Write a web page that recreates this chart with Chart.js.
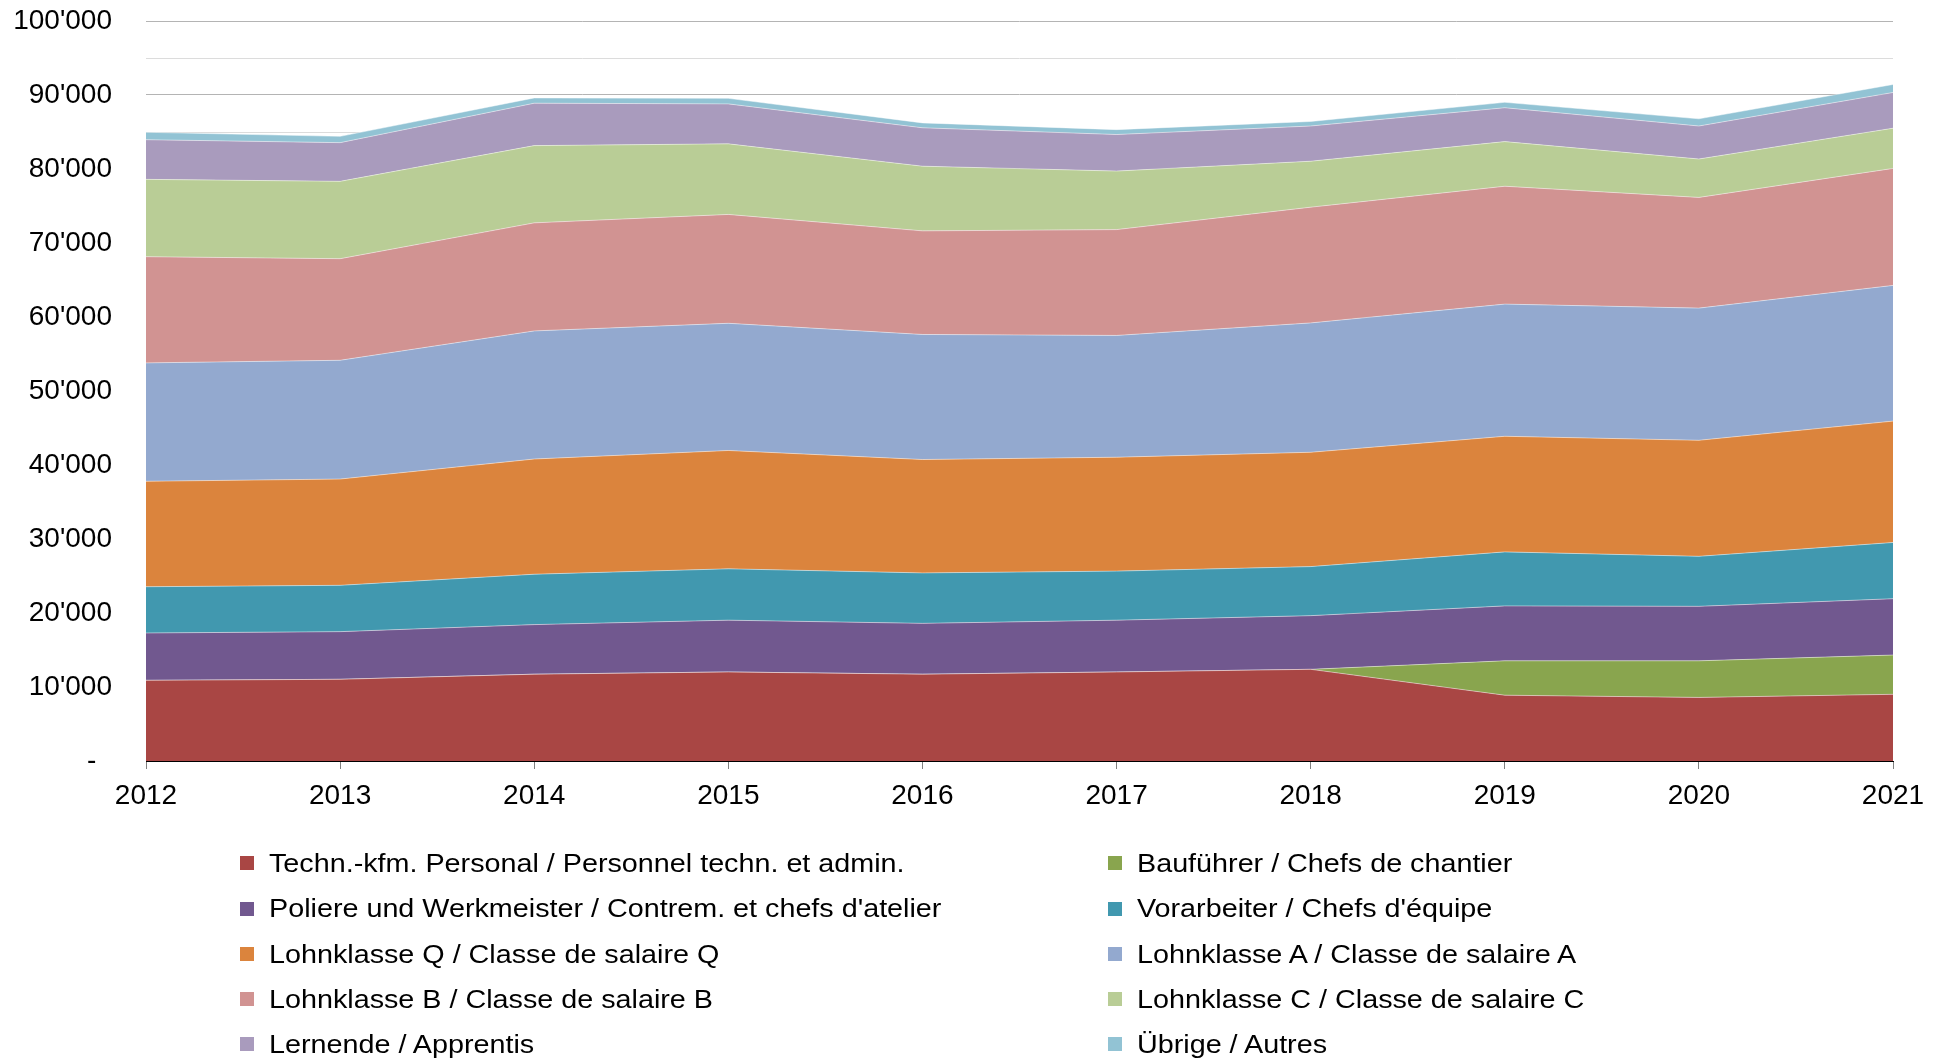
<!DOCTYPE html>
<html>
<head>
<meta charset="utf-8">
<script src="https://cdn.jsdelivr.net/npm/chart.js@4.4.0/dist/chart.umd.min.js"></script>
<style>
  html, body { margin: 0; padding: 0; background: #fff; }
  body { width: 1945px; height: 1062px; position: relative; overflow: hidden; font-family: "Liberation Sans", Arial, sans-serif; }
  #wrap { position: absolute; left: 0; top: 0; width: 1945px; height: 830px; }
  #legend { position: absolute; left: 0; top: 0; width: 1945px; height: 1062px; pointer-events: none; }
  .item { position: absolute; height: 30px; display: flex; align-items: center; color: #000; white-space: nowrap; }
  .box { width: 14px; height: 14px; margin-right: 15px; flex: none; }
  .txt { font-size: 26px; display: inline-block; transform: scaleX(1.105); transform-origin: left center; }
</style>
</head>
<body>
<div id="wrap"><canvas id="c"></canvas></div>
<div id="legend"></div>
<script>
const years = ['2012','2013','2014','2015','2016','2017','2018','2019','2020','2021'];
const techn      = [10900, 11040, 11730, 12030, 11730, 12030, 12390, 8890, 8590, 9010];
const baufuehrer = [0, 0, 0, 0, 0, 0, 0, 4650, 4950, 5310];
const poliere    = [6400, 6440, 6700, 7000, 6870, 7000, 7250, 7420, 7360, 7610];
const vorarbeiter= [6250, 6260, 6810, 6940, 6820, 6630, 6630, 7300, 6760, 7600];
const klasseQ    = [14250, 14360, 15570, 15990, 15320, 15390, 15450, 15620, 15680, 16400];
const klasseA    = [16000, 16050, 17310, 17190, 16900, 16460, 17480, 17860, 17860, 18340];
const klasseB    = [14350, 13730, 14600, 14710, 14000, 14300, 15640, 15930, 14960, 15810];
const klasseC    = [10450, 10450, 10440, 9540, 8740, 7910, 6210, 6030, 5190, 5430];
const lernende   = [5360, 5230, 5730, 5400, 5190, 4940, 4760, 4580, 4460, 4830];
const uebrige    = [1000, 850, 710, 750, 660, 660, 610, 730, 970, 1080];

const seriesLabels = [
  'Techn.-kfm. Personal / Personnel techn. et admin.',
  'Bauführer / Chefs de chantier',
  'Poliere und Werkmeister / Contrem. et chefs d\'atelier',
  'Vorarbeiter / Chefs d\'équipe',
  'Lohnklasse Q / Classe de salaire Q',
  'Lohnklasse A / Classe de salaire A',
  'Lohnklasse B / Classe de salaire B',
  'Lohnklasse C / Classe de salaire C',
  'Lernende / Apprentis',
  'Übrige / Autres'
];
const seriesData = [techn, baufuehrer, poliere, vorarbeiter, klasseQ, klasseA, klasseB, klasseC, lernende, uebrige];
const seriesColors = ['#a94644', '#89a54e', '#71588f', '#4198af', '#db843d', '#93a9cf', '#d19392', '#b9cd96', '#a99bbd', '#92c3d4'];

function fmt(v) {
  if (v === 0) return '-  ';
  return String(v).replace(/\B(?=(\d{3})+(?!\d))/g, "'");
}

Chart.defaults.font.family = '"Liberation Sans", Arial, sans-serif';
Chart.defaults.color = '#000';

const datasets = seriesData.map((d, i) => ({
  label: seriesLabels[i],
  data: d,
  backgroundColor: seriesColors[i],
  borderColor: 'rgba(255,255,255,0.45)',
  borderWidth: 1,
  pointRadius: 0,
  pointHoverRadius: 0,
  tension: 0,
  fill: i === 0 ? 'origin' : '-1'
}));

const chart = new Chart(document.getElementById('c'), {
  type: 'line',
  data: { labels: years, datasets: datasets },
  options: {
    responsive: true,
    maintainAspectRatio: false,
    animation: false,
    layout: { padding: { left: 0, right: 52, top: 21, bottom: 0 } },
    plugins: { legend: { display: false }, tooltip: { enabled: false } },
    scales: {
      x: {
        offset: false,
        grid: { display: true, drawOnChartArea: false, drawTicks: true, tickLength: 8, tickColor: '#808080', tickWidth: 1 },
        border: { display: true, color: '#000', width: 1 },
        ticks: { font: { size: 28 }, padding: 10, maxRotation: 0, autoSkip: false },
        afterFit: s => { s.height = 69; }
      },
      y: {
        stacked: true,
        min: 0, max: 100000,
        border: { display: false },
        grid: {
          drawTicks: true,
          tickLength: 30,
          tickColor: 'rgba(0,0,0,0)',
          lineWidth: 1,
          color: ctx => (ctx.tick && ctx.tick.value % 10000 === 0) ? '#b4b4b4' : '#dcdcdc'
        },
        ticks: {
          stepSize: 5000,
          autoSkip: false,
          padding: 4,
          font: { size: 28 },
          callback: v => (v % 10000 === 0 ? fmt(v) : '')
        },
        afterFit: s => { s.width = 146; }
      }
    }
  }
});

// HTML legend built from the chart's datasets, two columns
const legend = document.getElementById('legend');
const colX = [240, 1108];
const rowY = [863, 908.5, 954, 999, 1044];
chart.data.datasets.forEach((ds, i) => {
  const el = document.createElement('div');
  el.className = 'item';
  el.style.left = colX[i % 2] + 'px';
  el.style.top = (rowY[Math.floor(i / 2)] - 15) + 'px';
  const b = document.createElement('span');
  b.className = 'box';
  b.style.background = ds.backgroundColor;
  const t = document.createElement('span');
  t.className = 'txt';
  t.textContent = ds.label;
  el.appendChild(b); el.appendChild(t);
  legend.appendChild(el);
});
</script>
</body>
</html>
